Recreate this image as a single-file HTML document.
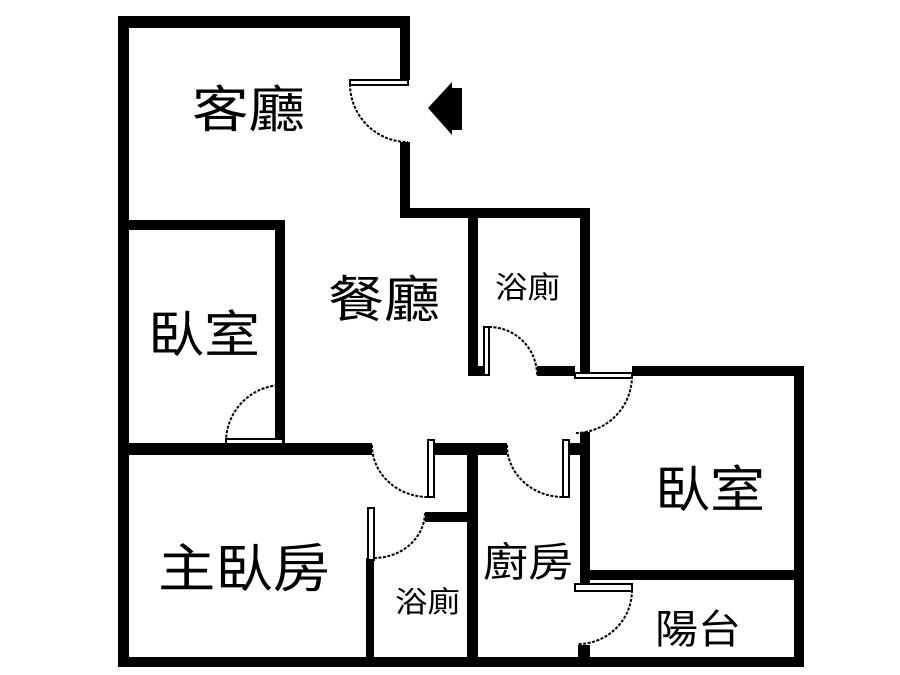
<!DOCTYPE html>
<html><head><meta charset="utf-8"><style>
html,body{margin:0;padding:0;background:#fff;}
svg{display:block}
text{font-family:"Liberation Sans","Noto Sans CJK TC",sans-serif;fill:#000}
</style></head><body>
<svg width="900" height="675" viewBox="0 0 900 675" xmlns="http://www.w3.org/2000/svg">
<g fill="#000">
<rect x="118" y="16" width="292" height="12"/>
<rect x="118" y="16" width="11" height="651"/>
<rect x="400" y="16" width="10" height="64"/>
<rect x="400" y="142" width="10" height="76"/>
<rect x="400" y="208" width="190" height="10"/>
<rect x="118" y="220" width="167" height="10"/>
<rect x="275" y="220" width="10" height="235"/>
<rect x="118" y="443" width="254" height="12"/>
<rect x="434" y="443" width="73" height="12"/>
<rect x="570" y="443" width="20" height="12"/>
<rect x="468" y="208" width="10" height="168"/>
<rect x="580" y="208" width="10" height="168"/>
<rect x="468" y="366" width="17" height="10"/>
<rect x="537" y="366" width="38" height="10"/>
<rect x="632" y="366" width="172" height="10"/>
<rect x="794" y="366" width="10" height="301"/>
<rect x="580" y="432" width="10" height="148"/>
<rect x="580" y="570" width="224" height="10"/>
<rect x="580" y="580" width="10" height="5"/>
<rect x="578" y="645" width="12" height="12"/>
<rect x="467" y="455" width="11" height="212"/>
<rect x="425" y="512" width="43" height="10"/>
<rect x="366" y="558" width="8" height="109"/>
<rect x="118" y="657" width="686" height="10"/>
<polygon points="428,108 452,82 452,135"/>
<rect x="452" y="88" width="10" height="42"/>
</g>
<g fill="#fff" stroke="#000" stroke-width="2">
<rect x="350" y="80" width="58" height="5"/>
<rect x="226" y="439" width="57" height="5"/>
<rect x="484" y="327" width="5" height="48"/>
<rect x="575" y="373" width="57" height="5"/>
<rect x="428" y="440" width="6" height="57"/>
<rect x="563" y="440" width="6" height="57"/>
<rect x="368" y="508" width="6" height="52"/>
<rect x="575" y="584" width="57" height="7"/>
</g>
<g fill="none" stroke="#000" stroke-width="2" stroke-dasharray="3,1.5">
<path d="M350,84 A58,58 0 0 0 408,142"/>
<path d="M226,442 A57,57 0 0 1 283,385"/>
<path d="M489,327 A48,48 0 0 1 537,375"/>
<path d="M632,376 A57,57 0 0 1 575,433"/>
<path d="M372,445 A56,52 0 0 0 428,497"/>
<path d="M507,445 A56,52 0 0 0 563,497"/>
<path d="M374,558 A51,46 0 0 0 425,512"/>
<path d="M632,590 A54,54 0 0 1 578,644"/>
</g>
<text x="192" y="127" font-size="50" textLength="113" lengthAdjust="spacingAndGlyphs">客廳</text>
<text x="328" y="317" font-size="50" textLength="112" lengthAdjust="spacingAndGlyphs">餐廳</text>
<text x="148" y="352" font-size="50" textLength="112" lengthAdjust="spacingAndGlyphs">臥室</text>
<text x="495" y="298" font-size="30" textLength="65" lengthAdjust="spacingAndGlyphs">浴廁</text>
<text x="655" y="507" font-size="50" textLength="110" lengthAdjust="spacingAndGlyphs">臥室</text>
<text x="158" y="587" font-size="52" textLength="172" lengthAdjust="spacingAndGlyphs">主臥房</text>
<text x="395" y="612" font-size="29" textLength="65" lengthAdjust="spacingAndGlyphs">浴廁</text>
<text x="483" y="576" font-size="40" textLength="90" lengthAdjust="spacingAndGlyphs">廚房</text>
<text x="655" y="643" font-size="40" textLength="86" lengthAdjust="spacingAndGlyphs">陽台</text>
</svg>
</body></html>
